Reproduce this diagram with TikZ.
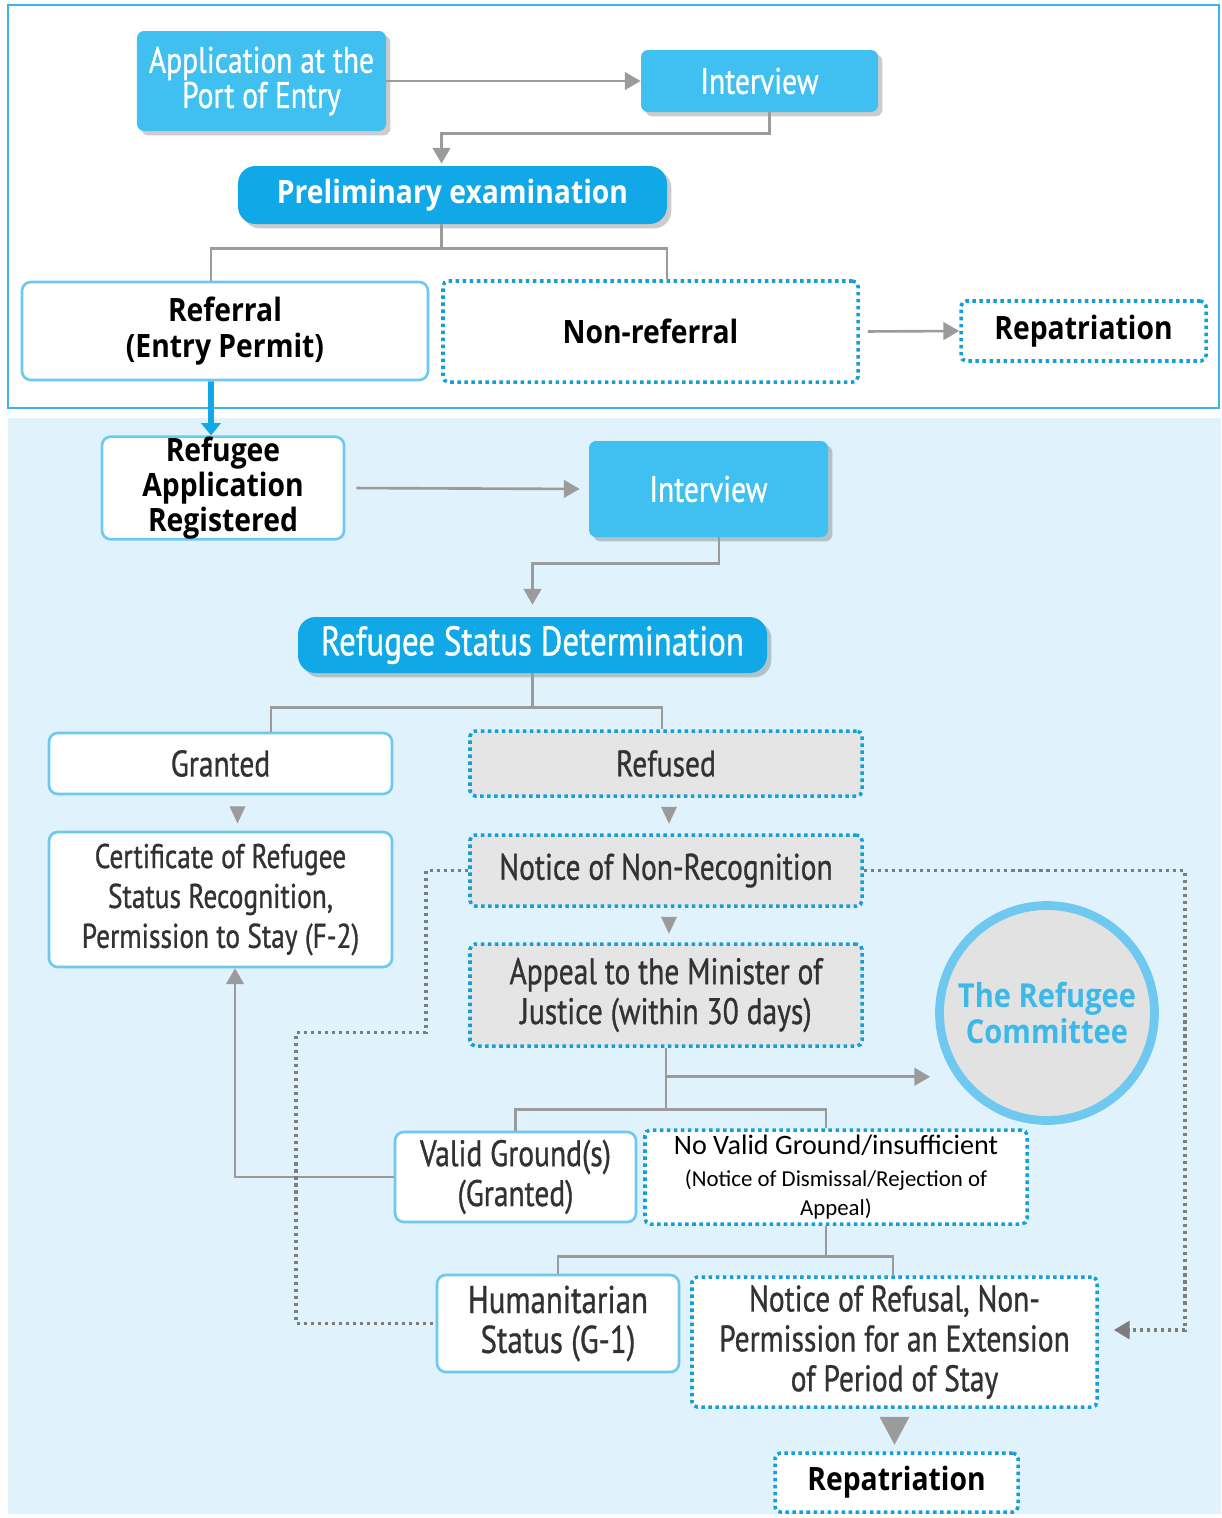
\documentclass[tikz,border=0pt]{standalone}
\usepackage{fontspec}
\setmainfont{Open Sans}
\newfontfamily\dinf[FakeStretch=0.8, FakeBold=0.8]{PT Sans}
\newfontfamily\mgf[FakeStretch=0.88]{Open Sans}
\newfontfamily\clf{Carlito}
\usetikzlibrary{arrows.meta,shadows,calc}
\definecolor{cBlue}{RGB}{64,192,240}
\definecolor{cDark}{RGB}{16,168,230}
\definecolor{cBorder}{RGB}{110,200,240}
\definecolor{cDot}{RGB}{20,160,215}
\definecolor{cFrame}{RGB}{60,180,235}
\definecolor{cBg}{RGB}{224,242,252}
\definecolor{cGrayFill}{RGB}{229,229,229}
\definecolor{cLine}{RGB}{155,155,155}
\definecolor{cDotLine}{RGB}{125,125,125}
\definecolor{cText}{RGB}{50,50,50}
\definecolor{cCirc}{RGB}{60,185,232}
\definecolor{cCircFill}{RGB}{226,226,226}
\newcommand{\mybox}[7]{%
  \pgfmathsetmacro\cx{(#3+#5)/2}\pgfmathsetmacro\cy{(#4+#6)/2}%
  \pgfmathsetmacro\ww{(#5-#3)*0.02}\pgfmathsetmacro\hh{(#6-#4)*0.02}%
  \node[#2, minimum width=\ww cm, minimum height=\hh cm] (#1) at (\cx,\cy) {#7};}
\tikzset{
  every node/.style={inner sep=0pt, align=center},
  shad/.style={drop shadow={shadow xshift=2.5pt, shadow yshift=-2.5pt, opacity=0.2, fill=black}},
  bluebox/.style={fill=cBlue, rounded corners=4pt, text=white, shad},
  darkbox/.style={fill=cDark, rounded corners=10pt, text=white, shad},
  whitebox/.style={fill=white, draw=cBorder, line width=1.5pt, rounded corners=5pt},
  dotbox/.style={fill=white, draw=cDot, line width=2pt, dash pattern=on 2pt off 2pt, rounded corners=3pt},
  graybox/.style={dotbox, fill=cGrayFill},
  dintext/.style={font=\dinf\fontsize{21}{22.7}\selectfont, text=cText},
  dinwhite/.style={font=\dinf\fontsize{21}{20}\selectfont, text=white},
  boldtext/.style={font=\mgf\bfseries\fontsize{18.3}{20}\selectfont, text=black},
  hline/.style={draw=cLine, line width=1.5pt},
  conn/.style={hline, -{Triangle[length=9pt,width=10pt]}},
  dotconn/.style={draw=cDotLine, line width=2.2pt, dash pattern=on 1.8pt off 2.2pt},
}
\begin{document}
\begin{tikzpicture}[x=0.02cm, y=-0.02cm]
\useasboundingbox (0,0) rectangle (1221,1518);
\fill[white] (0,0) rectangle (1221,1518);
% backgrounds
\fill[cBg] (8,418) rectangle (1221,1514);
\draw[cFrame, line width=1.3pt, fill=white] (8,5) rectangle (1219,408);

% top section
\mybox{app}{bluebox, dinwhite}{137}{31}{386}{131}{Application at the\\Port of Entry}
\mybox{int1}{bluebox, dinwhite}{641}{50}{878}{112}{Interview}
\mybox{prelim}{darkbox, font=\mgf\bfseries\fontsize{18.3}{20}\selectfont}{238}{166}{667}{224}{Preliminary examination}
\mybox{ref}{whitebox, boldtext}{22}{282}{428}{380}{Referral\\(Entry Permit)}
\mybox{nonref}{dotbox, boldtext}{443}{281}{858}{382}{Non-referral}
\mybox{rep1}{dotbox, boldtext}{961}{301}{1206}{361}{Repatriation}

% lower section
\mybox{reg}{whitebox, boldtext}{102}{438}{344}{538}{Refugee\\Application\\Registered}
\mybox{int2}{bluebox, dinwhite}{589}{441}{828}{537}{Interview}
\mybox{rsd}{darkbox, font=\dinf\fontsize{23.5}{25}\selectfont}{298}{617}{767}{673}{Refugee Status Determination}
\mybox{granted}{whitebox, dintext}{49}{733}{392}{794}{Granted}
\mybox{refused}{graybox, dintext}{470}{731}{862}{796}{Refused}
\mybox{cert}{whitebox, dintext, font=\dinf\fontsize{19.5}{22.7}\selectfont}{49}{832}{392}{967}{Certificate of Refugee\\Status Recognition,\\Permission to Stay (F-2)}
\mybox{notice}{graybox, dintext}{470}{835}{862}{906}{Notice of Non-Recognition}
\mybox{appeal}{graybox, dintext}{470}{944}{862}{1046}{Appeal to the Minister of\\Justice (within 30 days)}
\node[circle, draw=cBorder, line width=5pt, fill=cCircFill, minimum size=4.3cm,
      text=cCirc, font=\mgf\bfseries\fontsize{18.8}{20}\selectfont] (committee) at (1047,1013) {The Refugee\\Committee};
\mybox{valid}{whitebox, dintext}{395}{1132}{636}{1222}{Valid Ground(s)\\(Granted)}
\mybox{novalid}{dotbox, text=black, font=\clf\fontsize{13}{16.5}\selectfont}{645}{1130}{1027}{1224}{{\fontsize{16}{18}\selectfont No Valid Ground/insufficient}\\[1.5pt](Notice of Dismissal/Rejection of\\Appeal)}
\mybox{hum}{whitebox, dintext, font=\dinf\fontsize{22}{22.7}\selectfont}{437}{1275}{679}{1372}{Humanitarian\\Status (G-1)}
\mybox{refusal}{dotbox, dintext}{692}{1277}{1097}{1407}{Notice of Refusal, Non-\\Permission for an Extension\\of Period of Stay}
\mybox{rep2}{dotbox, boldtext}{775}{1453}{1018}{1512}{Repatriation}

% connectors top
\draw[conn] (app.east) -- (int1.west);
\draw[conn] ([xshift=0.2cm]int1.south) -- ++(0,21) -| ([xshift=-0.22cm,yshift=0.04cm]prelim.north);
\draw[hline] ([xshift=-0.22cm]prelim.south) -- ++(0,24) coordinate (pj);
\draw[hline] ([xshift=-0.28cm]ref.north) |- (pj) -| ([xshift=0.33cm]nonref.north);
\draw[conn, shorten <=0.16cm] (nonref.east) -- (rep1.west);
\draw[draw=cDark, line width=3.4pt, -{Triangle[length=7pt,width=11pt]}] ([xshift=-0.28cm]ref.south) -- ([xshift=-0.24cm]reg.north);

% connectors lower
\draw[conn, shorten <=0.22cm, shorten >=0.18cm] (reg.east) -- (int2.west);
\draw[conn, shorten >=0.24cm] ([xshift=0.21cm]int2.south) -- ++(0,26) -| (rsd.north);
\draw[hline] (rsd.south) -- ++(0,34) coordinate (rj);
\draw[hline] ([xshift=1.01cm]granted.north) |- (rj) -| ([xshift=-0.08cm]refused.north);
\fill[cLine] (granted.south) ++(9,11) -- ++(16,0) -- ++(-8,17) -- cycle;
\fill[cLine] (refused.south) ++(-5,9) -- ++(16,0) -- ++(-8,17) -- cycle;
\fill[cLine] (notice.south) ++(-5,9) -- ++(16,0) -- ++(-8,17) -- cycle;
\draw[hline] (appeal.south) -- ++(0,62) coordinate (aj);
\path (appeal.south) ++(0,29) coordinate (ab);
\draw[conn, shorten >=0.1cm] (ab) -- (ab -| committee.west);
\draw[hline] (valid.north) |- (aj) -| ([xshift=-0.2cm]novalid.north);
\draw[conn] (valid.west) -| ([xshift=0.29cm]cert.south);
\draw[hline] ([xshift=-0.2cm]novalid.south) -- ++(0,31) coordinate (nj);
\draw[hline] (hum.north) |- (nj) -| ([xshift=-0.03cm]refusal.north);
\fill[cLine] (refusal.south) ++(-15,8) -- ++(30,0) -- ++(-15,28) -- cycle;

% dotted connectors
\draw[dotconn] (notice.west) -- ++(-42,0) -- ++(0,162) -- ++(-130,0) |- (hum.west);
\draw[dotconn, -{Triangle[length=9pt,width=10pt]}, shorten >=0.3cm] (notice.east) -- ++(321,0) |- ([yshift=0.24cm]refusal.east);
\end{tikzpicture}
\end{document}
